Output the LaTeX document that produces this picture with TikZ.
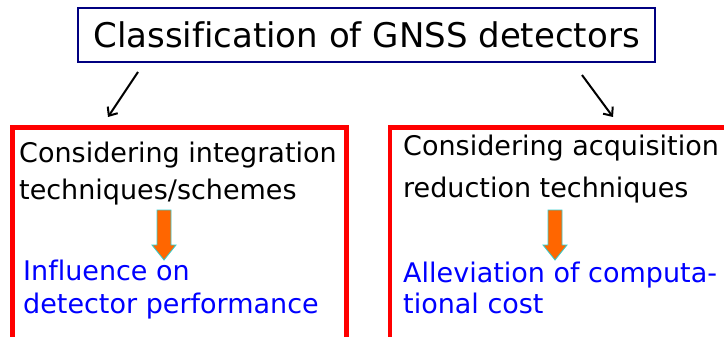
\documentclass[tikz,border=0pt]{standalone}
\usepackage{fontspec}
\setmainfont[Ligatures={NoCommon}]{DejaVu Sans}
\usetikzlibrary{arrows.meta,calc}
\definecolor{navy}{RGB}{0,0,128}
\definecolor{boxred}{RGB}{255,0,0}
\definecolor{textblue}{RGB}{0,0,255}
\definecolor{arroworange}{RGB}{255,102,0}
\definecolor{arrowcyan}{RGB}{51,204,204}
\tikzset{
  blockarrow/.pic={
    \filldraw[fill=arroworange, draw=arrowcyan, line width=0.8pt]
      (-7,0) -- (7,0) -- (7,35) -- (12,35) -- (0,50) -- (-12,35) -- (-7,35) -- cycle;
  }
}
\begin{document}
\begin{tikzpicture}[x=1pt,y=-1pt,
  titlebox/.style={draw=navy, line width=1.5pt, minimum width=577pt, minimum height=54pt,
    inner sep=0pt, outer sep=0pt, font=\fontsize{34}{40}\selectfont},
  groupbox/.style={draw=boxred, line width=4.5pt, anchor=north west, inner sep=0pt,
    outer sep=0pt, minimum height=240pt},
  lineblack/.style={anchor=base west, inner sep=0pt, font=\fontsize{27}{32}\selectfont},
  lineblue/.style={lineblack, text=textblue},
  branch/.style={-{Straight Barb[length=7pt,width=12pt]}, line width=2pt},
  ]
  \useasboundingbox (0,0) rectangle (724,337);
  \clip (0,0) rectangle (724,337);

  % heading
  \node[titlebox] (title) at (366.5,35) {Classification of GNSS detectors};

  % the two groups
  \node[groupbox, minimum width=334pt] (lbox) at (12.5,127.5) {};
  \node[groupbox, minimum width=340pt] (rbox) at (390,127.5) {};

  % left group text
  \node[lineblack] (l1) at (19,162) {Considering integration};
  \node[lineblack] (l2) at (19,200) {techniques/schemes};
  \node[lineblue]  (l3) at (23,280) {Influence on};
  \node[lineblue]  (l4) at (23,313) {detector performance};

  % right group text
  \node[lineblack] (r1) at (403,155) {Considering acquisition};
  \node[lineblack] (r2) at (403,197) {reduction techniques};
  \node[lineblue]  (r3) at (403,282) {Alleviation of computa-};
  \node[lineblue]  (r4) at (403,313) {tional cost};

  % branches from the heading
  \draw[branch] ($(title.south west)+(60,10)$) -- ($(lbox.north west)+(95.5,-10.5)$);
  \draw[branch] ($(title.south east)+(-73,13)$) -- ($(rbox.north west)+(223,-10.5)$);

  % block arrows inside the groups
  \pic at (164,210) {blockarrow};
  \pic at (555,210) {blockarrow};
\end{tikzpicture}
\end{document}
